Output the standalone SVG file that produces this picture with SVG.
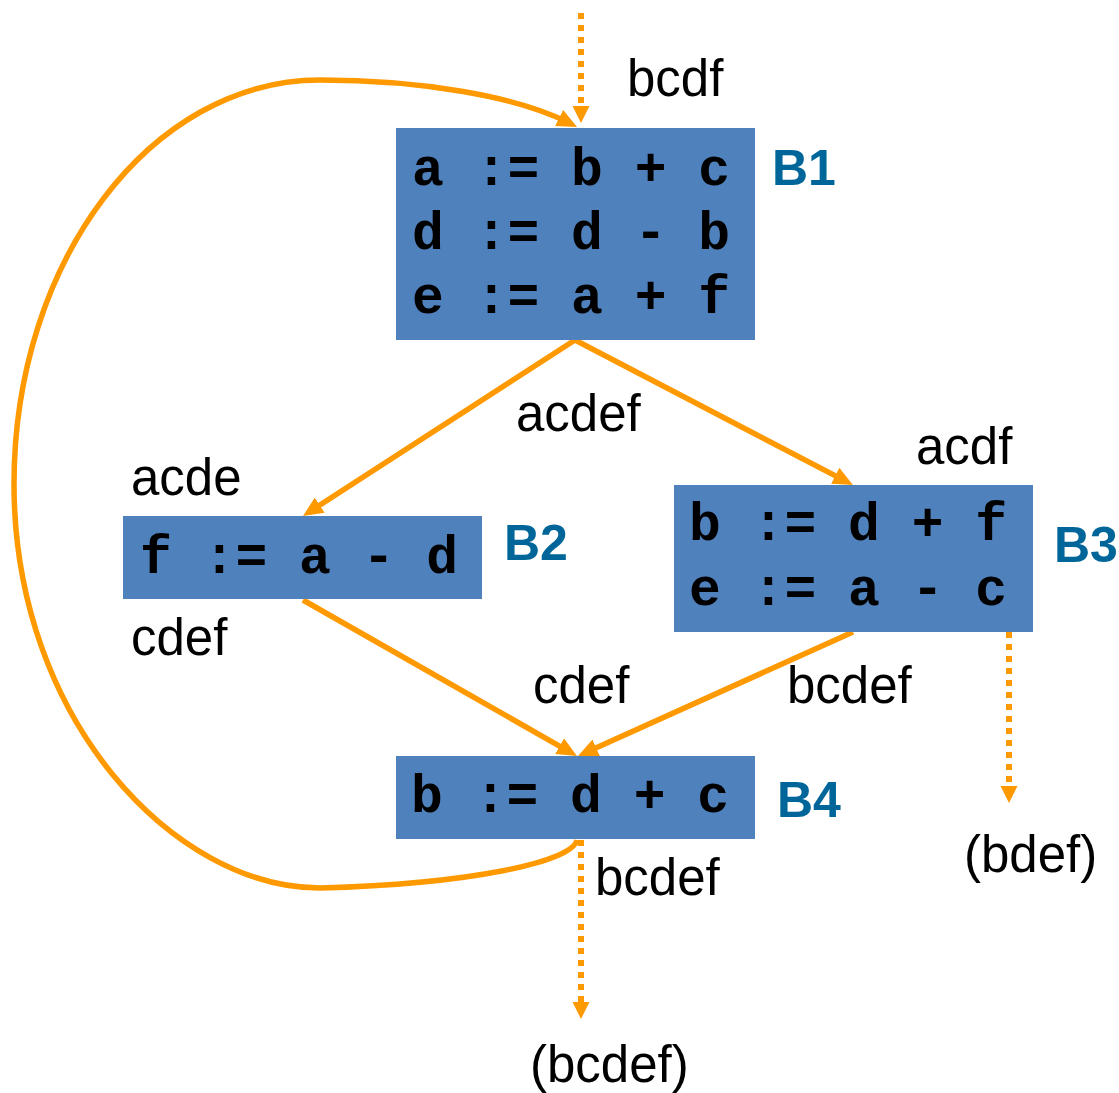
<svg xmlns="http://www.w3.org/2000/svg" width="1119" height="1093" viewBox="0 0 1119 1093">
  <style>
    .block { fill: #4F81BD; }
    .code { font-family: "Liberation Mono", "Courier New", monospace; font-weight: bold; font-size: 53px; fill: #000; }
    .name { font-family: "Liberation Sans", Arial, sans-serif; font-weight: bold; font-size: 50px; fill: #006699; }
    .set { font-family: "Liberation Sans", Arial, sans-serif; font-size: 51px; fill: #000; }
    .edge { fill: none; stroke: #FF9900; stroke-width: 5.5; }
    .flow { fill: none; stroke: #FF9900; stroke-width: 6; stroke-dasharray: 6 6; }
  </style>
  <defs>
    <marker id="arrow" markerUnits="userSpaceOnUse" markerWidth="22" markerHeight="20" refX="9" refY="9" orient="auto">
      <path d="M0,0 L20,9 L0,18 z" fill="#FF9900"/>
    </marker>
    <marker id="arrow-flow" markerUnits="userSpaceOnUse" markerWidth="19" markerHeight="19" refX="0" refY="8.5" orient="auto">
      <path d="M0,0 L17,8.5 L0,17 z" fill="#FF9900"/>
    </marker>
  </defs>

  <rect width="1119" height="1093" fill="#fff"/>

  <!-- control-flow edges -->
  <g id="connectors">
    <path class="edge" d="M575,340 L312.2,510.0" marker-end="url(#arrow)"/>
    <path class="edge" d="M575,340 L843.2,479.9" marker-end="url(#arrow)"/>
    <path class="edge" d="M303,600 L567.4,750.6" marker-end="url(#arrow)"/>
    <path class="edge" d="M853,632 L588.0,751.5" marker-end="url(#arrow)"/>
    <!-- back edge B4 -> B1 -->
    <path class="edge" d="M577,840 C572,862 470,884 320,888 C175,888 14,720 14,484 C14,261 151,80 320,80 C420,80 515,96 567.2,122.0" marker-end="url(#arrow)"/>
    <!-- entry / exit flows -->
    <path class="flow" d="M581,13 L581,106" marker-end="url(#arrow-flow)"/>
    <path class="flow" d="M581,840 L581,1002" marker-end="url(#arrow-flow)"/>
    <path class="flow" d="M1009,632 L1009,786" marker-end="url(#arrow-flow)"/>
  </g>

  <g id="B1">
    <rect class="block" x="396" y="128" width="359" height="212"/>
    <text class="code" x="412" y="185" xml:space="preserve">a := b + c</text>
    <text class="code" x="412" y="249" xml:space="preserve">d := d - b</text>
    <text class="code" x="412" y="313" xml:space="preserve">e := a + f</text>
    <text class="name" x="772" y="185">B1</text>
  </g>

  <g id="B2">
    <rect class="block" x="123" y="516" width="359" height="83"/>
    <text class="code" x="140" y="573" xml:space="preserve">f := a - d</text>
    <text class="name" x="504" y="560">B2</text>
  </g>

  <g id="B3">
    <rect class="block" x="674" y="485" width="359" height="147"/>
    <text class="code" x="689" y="540" xml:space="preserve">b := d + f</text>
    <text class="code" x="689" y="605" xml:space="preserve">e := a - c</text>
    <text class="name" x="1054" y="562">B3</text>
  </g>

  <g id="B4">
    <rect class="block" x="396" y="756" width="359" height="83"/>
    <text class="code" x="411" y="812" xml:space="preserve">b := d + c</text>
    <text class="name" x="777" y="817">B4</text>
  </g>

  <!-- live-variable sets -->
  <g id="sets">
    <text class="set" x="627" y="96">bcdf</text>
    <text class="set" x="516" y="431">acdef</text>
    <text class="set" x="131" y="495">acde</text>
    <text class="set" x="916" y="464">acdf</text>
    <text class="set" x="131" y="655">cdef</text>
    <text class="set" x="533" y="703">cdef</text>
    <text class="set" x="787" y="703">bcdef</text>
    <text class="set" x="595" y="895">bcdef</text>
    <text class="set" x="964" y="872">(bdef)</text>
    <text class="set" x="530" y="1082">(bcdef)</text>
  </g>
</svg>
